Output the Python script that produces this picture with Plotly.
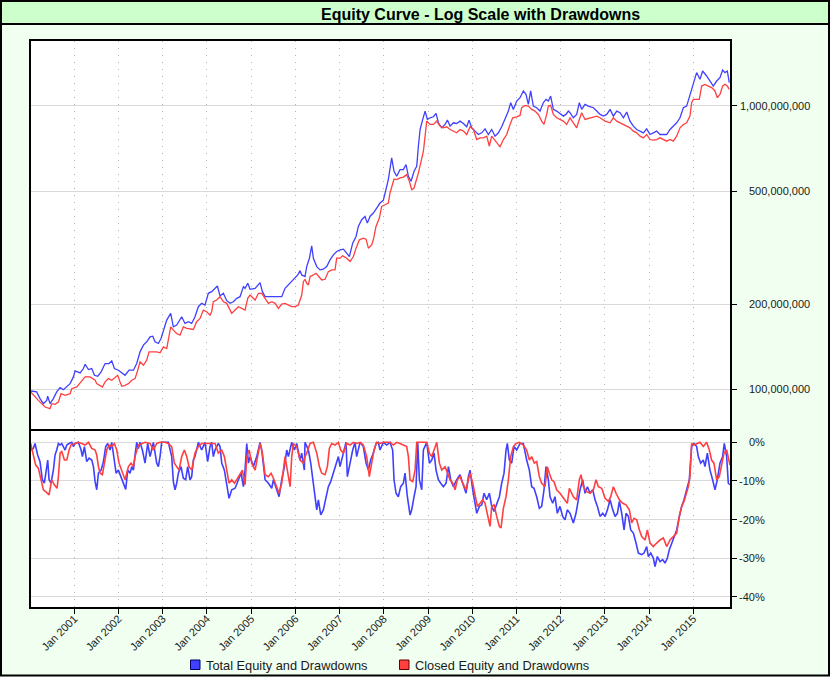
import datetime as dt
import math
import plotly.graph_objects as go

# ---------------- data ----------------
# Dates are given as decimal years; equity in millions of dollars; drawdowns in percent.
total_equity_year = [
    2000.013, 2000.149, 2000.224, 2000.300, 2000.375, 2000.398, 2000.450, 2000.526, 2000.601, 2000.677,
    2000.752, 2000.828, 2000.903, 2000.978, 2001.016, 2001.129, 2001.205, 2001.243, 2001.318, 2001.393,
    2001.454, 2001.529, 2001.605, 2001.695, 2001.785, 2001.846, 2001.906, 2001.996, 2002.072, 2002.147,
    2002.238, 2002.336, 2002.411, 2002.486, 2002.562, 2002.637, 2002.713, 2002.773, 2002.826, 2002.901,
    2002.961, 2003.014, 2003.090, 2003.180, 2003.240, 2003.316, 2003.391, 2003.429, 2003.504, 2003.580,
    2003.655, 2003.730, 2003.806, 2003.881, 2003.957, 2004.032, 2004.107, 2004.183, 2004.236, 2004.296,
    2004.371, 2004.447, 2004.522, 2004.598, 2004.673, 2004.748, 2004.824, 2004.861, 2004.922, 2004.974,
    2005.088, 2005.200, 2005.253, 2005.314, 2005.427, 2005.502, 2005.578, 2005.691, 2005.766, 2005.842,
    2005.917, 2005.993, 2006.053, 2006.105, 2006.143, 2006.218,
    2006.256, 2006.317, 2006.369, 2006.407, 2006.483, 2006.558, 2006.633, 2006.709, 2006.784, 2006.860,
    2006.935, 2007.010, 2007.086, 2007.161, 2007.222, 2007.297, 2007.373, 2007.425, 2007.501, 2007.576,
    2007.629, 2007.689, 2007.764, 2007.840, 2007.915, 2007.990, 2008.051, 2008.103, 2008.179, 2008.232,
    2008.292, 2008.367, 2008.443, 2008.503, 2008.556, 2008.616, 2008.684, 2008.744, 2008.782, 2008.820,
    2008.880, 2008.933, 2008.985, 2009.046, 2009.121, 2009.181, 2009.234, 2009.310, 2009.385, 2009.438,
    2009.498, 2009.574, 2009.649, 2009.724, 2009.800, 2009.875, 2009.928, 2009.988, 2010.064, 2010.139,
    2010.215, 2010.290, 2010.365, 2010.441, 2010.516, 2010.592, 2010.667, 2010.742, 2010.818, 2010.871,
    2010.931, 2011.006, 2011.082, 2011.157, 2011.217, 2011.270, 2011.323, 2011.383, 2011.459, 2011.534,
    2011.609, 2011.670, 2011.723, 2011.775, 2011.836, 2011.911, 2011.986, 2012.062, 2012.122, 2012.175,
    2012.213,
    2012.288, 2012.363, 2012.423, 2012.476, 2012.552, 2012.627, 2012.740, 2012.816, 2012.891, 2012.966,
    2013.042, 2013.117, 2013.192, 2013.268, 2013.343, 2013.419, 2013.494, 2013.569, 2013.645, 2013.720,
    2013.796, 2013.871, 2013.946, 2014.022, 2014.097, 2014.172, 2014.248, 2014.323, 2014.399, 2014.474,
    2014.549, 2014.625, 2014.700, 2014.776, 2014.851, 2014.926, 2015.002, 2015.077, 2015.152, 2015.213,
    2015.303, 2015.379, 2015.454, 2015.530, 2015.605, 2015.665, 2015.718, 2015.771, 2015.816,
]
total_equity_musd = [
    98.7, 97.9, 92.7, 89.0, 91.4, 94.5, 89.0, 92.7, 97.9, 101.4,
    99.7, 101.9, 104.7, 110.6, 116.1, 114.2, 118.4, 122.6, 117.4, 118.4,
    112.1, 111.2, 115.2, 123.3, 123.3, 126.0, 118.4, 116.8, 114.2, 112.1,
    116.8, 116.8, 123.3, 135.6, 143.2, 147.1, 153.2, 154.0, 147.1, 145.1,
    151.2, 161.8, 175.5, 185.3, 166.2, 168.5, 175.5, 180.4, 170.8, 173.2,
    170.8, 180.4, 195.7, 201.1, 198.4, 218.2, 221.1, 227.2, 231.6, 213.5,
    218.2, 205.5, 201.1, 203.8, 209.4, 212.3, 230.3, 227.2, 236.7, 225.4,
    227.2, 238.0, 221.1, 212.3, 212.3, 213.5, 212.3, 212.3, 227.2, 233.5,
    239.9, 246.5, 253.3, 262.4, 253.3, 249.9,
    271.1, 290.2, 320.9, 290.2, 271.1, 263.9, 265.3, 271.1, 286.3, 298.2,
    306.4, 310.6, 312.3, 302.3, 294.2, 328.0, 346.3, 375.7, 396.7, 407.6,
    386.0, 407.6, 418.8, 436.2, 454.4, 464.4, 506.6, 549.7, 655.9, 588.3,
    564.8, 596.4, 596.4, 621.2, 564.8, 542.2, 588.3, 612.8, 721.2, 826.2,
    896.5, 959.5, 896.5, 908.7, 916.2, 941.4, 872.5, 837.6, 860.7, 891.6,
    849.0, 872.5, 867.8, 884.4, 867.8, 844.5, 891.6, 837.6, 815.1, 793.2,
    804.1, 830.8, 793.2, 826.2, 782.5, 804.1, 844.5, 896.5, 959.5, 1027.0,
    972.7, 1041.0, 1070.0, 1130.0, 1099.0, 1013.0, 1130.0, 999.0, 986.0, 959.5,
    1027.0, 1055.0, 1041.0, 1084.0, 972.7, 959.5, 941.4, 921.1, 933.8, 959.5,
    946.5,
    908.7, 933.8, 1027.0, 972.7, 1013.0, 999.0, 986.0, 959.5, 933.8, 921.1,
    933.8, 972.7, 921.1, 959.5, 946.5, 908.7, 951.7, 884.4, 849.0, 826.2,
    815.1, 804.1, 830.8, 793.2, 804.1, 815.1, 793.2, 793.2, 793.2, 826.2,
    849.0, 872.5, 908.7, 986.0, 999.0, 1099.0, 1209.0, 1312.0, 1242.0, 1329.0,
    1276.0, 1225.0, 1176.0, 1225.0, 1259.0, 1340.0, 1312.0, 1329.0, 1209.0,
]

closed_equity_year = [
    2000.013, 2000.111, 2000.186, 2000.262, 2000.337, 2000.450, 2000.488, 2000.563, 2000.639, 2000.699,
    2000.790, 2000.903, 2000.941, 2001.054, 2001.167, 2001.243, 2001.356, 2001.469, 2001.506, 2001.582,
    2001.634, 2001.695, 2001.770, 2001.846, 2001.921, 2001.981, 2002.034, 2002.072, 2002.147, 2002.223,
    2002.298, 2002.373, 2002.434, 2002.486, 2002.562, 2002.637, 2002.690, 2002.788, 2002.864, 2002.939,
    2003.014, 2003.090, 2003.127, 2003.180, 2003.240, 2003.316, 2003.391, 2003.466, 2003.542, 2003.693,
    2003.768, 2003.844, 2003.919, 2003.994, 2004.070, 2004.107, 2004.145, 2004.221, 2004.296, 2004.371,
    2004.447, 2004.560, 2004.635, 2004.711, 2004.786, 2004.861, 2004.922, 2004.974, 2005.088, 2005.163,
    2005.238, 2005.314, 2005.389, 2005.465, 2005.540, 2005.615, 2005.691, 2005.766, 2005.842, 2005.917,
    2005.993, 2006.068, 2006.143, 2006.181, 2006.218,
    2006.256, 2006.294, 2006.332, 2006.407, 2006.467, 2006.543, 2006.595, 2006.671, 2006.746, 2006.822,
    2006.897, 2006.935, 2007.010, 2007.071, 2007.161, 2007.237, 2007.312, 2007.373, 2007.448, 2007.538,
    2007.599, 2007.652, 2007.727, 2007.764, 2007.825, 2007.900, 2007.953, 2008.028, 2008.103, 2008.141,
    2008.179, 2008.232, 2008.292, 2008.367, 2008.443, 2008.518, 2008.578, 2008.631, 2008.684, 2008.729,
    2008.782, 2008.835, 2008.895, 2008.933, 2008.970, 2009.046, 2009.121, 2009.197, 2009.272, 2009.347,
    2009.423, 2009.498, 2009.574, 2009.649, 2009.724, 2009.800, 2009.875, 2009.951, 2010.026, 2010.102,
    2010.177, 2010.252, 2010.328, 2010.388, 2010.441, 2010.494, 2010.554, 2010.629, 2010.705, 2010.780,
    2010.856, 2010.916, 2011.006, 2011.082, 2011.119, 2011.195, 2011.270, 2011.346, 2011.421, 2011.496,
    2011.572, 2011.625, 2011.685, 2011.723, 2011.775, 2011.836, 2011.911, 2011.986, 2012.062, 2012.137,
    2012.213,
    2012.288, 2012.363, 2012.423, 2012.476, 2012.552, 2012.665, 2012.816, 2012.891, 2013.004, 2013.117,
    2013.192, 2013.268, 2013.343, 2013.419, 2013.494, 2013.569, 2013.645, 2013.720, 2013.796, 2013.871,
    2013.946, 2014.022, 2014.097, 2014.172, 2014.248, 2014.323, 2014.399, 2014.474, 2014.549, 2014.625,
    2014.700, 2014.776, 2014.851, 2014.926, 2014.964, 2015.002, 2015.077, 2015.137, 2015.190, 2015.266,
    2015.341, 2015.416, 2015.492, 2015.545, 2015.605, 2015.665, 2015.718, 2015.771, 2015.816,
]
closed_equity_musd = [
    97.9, 93.9, 91.4, 89.0, 86.6, 85.4, 89.0, 88.5, 90.2, 96.5,
    95.2, 96.5, 100.5, 101.9, 107.6, 110.6, 110.6, 107.6, 104.7, 103.3,
    101.9, 106.2, 109.1, 107.6, 110.6, 112.1, 106.2, 102.5, 103.3, 104.7,
    107.6, 109.1, 116.8, 125.0, 121.6, 126.7, 135.6, 135.6, 135.6, 134.5,
    141.2, 139.3, 151.2, 166.2, 161.8, 157.4, 155.3, 166.2, 164.0, 162.7,
    173.2, 177.9, 190.4, 187.9, 182.8, 187.9, 203.8, 206.6, 212.3, 203.8,
    201.1, 185.3, 190.4, 195.7, 193.1, 190.4, 209.4, 215.2, 206.6, 218.2,
    218.2, 209.4, 201.1, 203.8, 201.1, 193.1, 200.0, 201.1, 198.4, 195.7,
    195.7, 198.4, 215.2, 239.9, 244.5,
    236.7, 233.5, 249.9, 253.3, 256.8, 248.6, 243.2, 244.5, 260.3, 263.9,
    263.9, 290.2, 290.2, 295.8, 290.2, 282.4, 294.2, 314.9, 337.0, 341.6,
    338.8, 314.9, 323.5, 337.0, 375.7, 402.1, 442.2, 448.3, 454.4, 493.0,
    520.6, 552.6, 549.7, 557.2, 561.0, 572.5, 542.2, 506.6, 513.5, 542.2,
    580.3, 629.7, 692.5, 782.5, 884.4, 860.7, 860.7, 884.4, 849.0, 837.6,
    844.5, 826.2, 815.1, 804.1, 826.2, 815.1, 793.2, 844.5, 826.2, 761.5,
    771.9, 771.9, 782.5, 721.2, 782.5, 761.5, 741.2, 717.4, 761.5, 793.2,
    860.7, 908.7, 916.2, 926.2, 986.0, 1005.0, 999.0, 972.7, 959.5, 933.8,
    884.4, 860.7, 933.8, 999.0, 1005.0, 933.8, 908.7, 896.5, 884.4, 860.7,
    908.7,
    872.5, 837.6, 896.5, 946.5, 896.5, 908.7, 921.1, 908.7, 884.4, 872.5,
    908.7, 884.4, 872.5, 860.7, 849.0, 837.6, 815.1, 804.1, 782.5, 771.9,
    793.2, 761.5, 757.4, 761.5, 771.9, 761.5, 751.3, 761.5, 751.3, 782.5,
    837.6, 860.7, 872.5, 921.1, 1027.0, 1055.0, 1055.0, 1055.0, 1176.0, 1192.0,
    1176.0, 1161.0, 1130.0, 1070.0, 1099.0, 1176.0, 1192.0, 1176.0, 1145.0,
]

total_dd_year = [
    2000.013, 2000.073, 2000.111, 2000.171, 2000.224, 2000.277, 2000.322, 2000.375, 2000.398, 2000.428,
    2000.473, 2000.526, 2000.563, 2000.601, 2000.639, 2000.677, 2000.714, 2000.790, 2000.828, 2000.880,
    2000.941, 2000.978, 2001.016, 2001.091, 2001.152, 2001.182, 2001.227, 2001.280, 2001.333, 2001.393,
    2001.431, 2001.469, 2001.506, 2001.544, 2001.604, 2001.657, 2001.710, 2001.755, 2001.808, 2001.846,
    2001.906, 2001.944, 2001.996, 2002.057, 2002.109, 2002.162, 2002.207, 2002.260, 2002.298, 2002.336,
    2002.373, 2002.411, 2002.449, 2002.486, 2002.539, 2002.599, 2002.660, 2002.713, 2002.788, 2002.864,
    2002.901, 2002.939, 2002.976, 2003.052, 2003.127, 2003.203, 2003.240, 2003.278, 2003.316, 2003.353,
    2003.414, 2003.466, 2003.519, 2003.565, 2003.617, 2003.655, 2003.693, 2003.730, 2003.768, 2003.806,
    2003.881, 2003.957, 2004.017, 2004.070, 2004.107, 2004.145, 2004.183, 2004.258, 2004.296, 2004.334,
    2004.394, 2004.447, 2004.499, 2004.560, 2004.635, 2004.711, 2004.771, 2004.824, 2004.861, 2004.899,
    2004.937, 2004.974, 2005.050, 2005.125, 2005.163, 2005.200, 2005.238, 2005.276, 2005.314, 2005.389,
    2005.465, 2005.502, 2005.578, 2005.630, 2005.691, 2005.751, 2005.804, 2005.842, 2005.917, 2005.978,
    2006.030, 2006.105, 2006.143, 2006.203,
    2006.218, 2006.294, 2006.347, 2006.392, 2006.445, 2006.483, 2006.520, 2006.573, 2006.633, 2006.694,
    2006.746, 2006.799, 2006.860, 2006.920, 2006.973, 2007.010, 2007.048, 2007.101, 2007.146, 2007.176,
    2007.237, 2007.297, 2007.349, 2007.387, 2007.463, 2007.538, 2007.599, 2007.652, 2007.704, 2007.764,
    2007.825, 2007.878, 2007.915, 2007.990, 2008.066, 2008.141, 2008.201, 2008.232, 2008.277, 2008.329,
    2008.382, 2008.443, 2008.480, 2008.533, 2008.593, 2008.631, 2008.684, 2008.729, 2008.767, 2008.804,
    2008.857, 2008.895, 2008.970, 2009.031, 2009.083, 2009.136, 2009.181, 2009.234, 2009.287, 2009.347,
    2009.408, 2009.461, 2009.513, 2009.574, 2009.649, 2009.724, 2009.785, 2009.860, 2009.913, 2009.951,
    2010.011, 2010.064, 2010.102, 2010.162, 2010.215, 2010.267, 2010.328, 2010.388, 2010.441, 2010.494,
    2010.554, 2010.614, 2010.667, 2010.720, 2010.765, 2010.795, 2010.840, 2010.893, 2010.946, 2011.006,
    2011.082, 2011.157, 2011.232, 2011.293, 2011.346, 2011.398, 2011.459, 2011.519, 2011.572, 2011.625,
    2011.670, 2011.723, 2011.761, 2011.821, 2011.873, 2011.926, 2011.986, 2012.047, 2012.100, 2012.152,
    2012.213,
    2012.288, 2012.348, 2012.401, 2012.439, 2012.499, 2012.552, 2012.605, 2012.665, 2012.725, 2012.778,
    2012.831, 2012.891, 2012.951, 2013.004, 2013.057, 2013.117, 2013.178, 2013.230, 2013.283, 2013.328,
    2013.381, 2013.434, 2013.479, 2013.532, 2013.585, 2013.645, 2013.705, 2013.758, 2013.833, 2013.886,
    2013.946, 2013.984, 2014.037, 2014.097, 2014.135, 2014.187, 2014.248, 2014.308, 2014.361, 2014.414,
    2014.459, 2014.512, 2014.565, 2014.625, 2014.685, 2014.738, 2014.791, 2014.851, 2014.911, 2014.941,
    2014.964, 2015.017, 2015.077, 2015.115, 2015.168, 2015.228, 2015.266, 2015.319, 2015.379, 2015.439,
    2015.492, 2015.545, 2015.605, 2015.665, 2015.703, 2015.756, 2015.794, 2015.831,
]
total_dd_pct = [
    -2.0, -1.6, -0.3, -3.3, -5.0, -9.7, -10.6, -5.4, -4.6, -9.7,
    -10.6, -7.2, -3.3, -2.0, -0.3, -0.7, -0.3, -2.0, -0.7, -0.3,
    0.0, -1.1, -0.3, 0.0, -2.0, -3.7, -1.1, -5.0, -4.1, -4.6,
    -6.3, -10.2, -12.3, -8.0, -7.2, -5.0, -1.1, -0.3, -2.0, 0.0,
    -4.6, -8.0, -7.2, -8.9, -10.6, -12.2, -7.2, -8.0, -6.3, -7.2,
    -3.3, 0.0, -1.6, 0.0, -2.0, -5.4, -0.3, -3.7, 0.0, -5.4,
    -6.3, -3.7, 0.0, 0.0, 0.0, -3.7, -10.2, -12.3, -10.6, -8.0,
    -6.3, -9.3, -9.7, -6.3, -9.7, -8.9, -4.6, -3.7, -2.0, 0.0,
    -2.0, 0.0, -5.0, -1.1, 0.0, -3.7, -2.0, -0.3, -1.1, -5.4,
    -7.2, -11.5, -14.5, -12.3, -11.9, -9.7, -8.0, -11.5, -7.2, -0.3,
    -5.4, -3.7, -6.3, -3.7, -2.0, 0.0, -2.0, -6.3, -9.7, -10.6,
    -11.9, -9.7, -12.3, -14.1, -9.7, -6.3, -2.0, -3.7, 0.0, -2.0,
    -0.3, -4.6, -2.8, -7.2,
    0.0, -2.0, -5.4, -9.7, -14.1, -17.5, -14.9, -18.8, -17.5, -14.1,
    -11.5, -10.2, -8.0, -5.4, -3.7, -6.3, -4.6, -2.0, 0.0, -8.9,
    -5.4, -2.0, 0.0, -3.7, 0.0, -1.1, -5.4, -7.2, -4.6, -2.8,
    -0.3, 0.0, -2.0, 0.0, -0.7, 0.0, -2.0, -9.7, -13.2, -14.1,
    -11.5, -10.6, -8.0, -14.1, -18.8, -17.5, -14.1, -11.5, 0.0, -9.7,
    -12.3, -2.0, 0.0, -5.4, -4.6, -2.8, -7.2, -9.7, -10.6, -11.5,
    -10.6, -6.3, -9.7, -11.5, -9.7, -8.4, -10.6, -13.2, -8.9, -7.2,
    -12.3, -15.8, -18.4, -16.6, -16.2, -13.2, -14.9, -13.2, -16.6, -17.9,
    -16.2, -14.1, -10.6, -8.0, -2.0, -0.3, -4.6, -5.4, -1.1, -2.0,
    -0.3, -0.3, -4.6, -7.2, -11.5, -11.9, -14.1, -17.1, -16.6, -12.3,
    -6.3, -9.7, -14.1, -15.8, -14.1, -18.4, -16.6, -19.2, -20.1, -17.5,
    -18.4,
    -20.9, -18.4, -14.1, -12.3, -9.7, -13.2, -11.5, -13.2, -12.3, -14.9,
    -16.6, -19.2, -18.4, -19.2, -17.5, -14.9, -17.5, -19.2, -18.4, -15.3,
    -18.4, -22.7, -18.4, -19.2, -22.7, -23.5, -26.1, -28.7, -29.1, -28.7,
    -27.0, -29.6, -28.7, -30.0, -32.2, -29.6, -30.9, -30.4, -31.3, -30.0,
    -27.8, -26.1, -24.4, -22.7, -19.2, -16.6, -14.9, -12.3, -9.7, -4.6,
    -1.1, -0.3, -1.1, -3.7, -5.4, -4.6, -6.3, -2.8, -7.2, -9.7,
    -12.3, -9.7, -5.4, -3.7, -0.3, -3.7, -10.6, -11.0,
]

closed_dd_year = [
    2000.013, 2000.073, 2000.126, 2000.186, 2000.247, 2000.300, 2000.352, 2000.428, 2000.488, 2000.548,
    2000.609, 2000.639, 2000.677, 2000.714, 2000.775, 2000.828, 2000.880, 2000.925, 2001.016, 2001.091,
    2001.167, 2001.243, 2001.318, 2001.393, 2001.469, 2001.506, 2001.544, 2001.582, 2001.634, 2001.680,
    2001.732, 2001.785, 2001.846, 2001.906, 2001.959, 2002.011, 2002.087, 2002.147, 2002.223, 2002.283,
    2002.336, 2002.373, 2002.449, 2002.524, 2002.599, 2002.713, 2002.788, 2002.864, 2002.939, 2003.052,
    2003.127, 2003.203, 2003.263, 2003.316, 2003.368, 2003.429, 2003.489, 2003.542, 2003.595, 2003.655,
    2003.693, 2003.730, 2003.806, 2003.881, 2003.994, 2004.107, 2004.183, 2004.258, 2004.334, 2004.394,
    2004.447, 2004.499, 2004.560, 2004.620, 2004.673, 2004.748, 2004.801, 2004.861, 2004.899, 2004.952,
    2005.012, 2005.088, 2005.163, 2005.200, 2005.253, 2005.314, 2005.389, 2005.449, 2005.502, 2005.578,
    2005.630, 2005.691, 2005.729, 2005.766, 2005.842, 2005.880, 2005.917, 2005.955, 2006.030, 2006.105,
    2006.181, 2006.218,
    2006.256, 2006.332, 2006.407, 2006.483, 2006.543, 2006.595, 2006.671, 2006.724, 2006.769, 2006.822,
    2006.897, 2006.973, 2007.025, 2007.086, 2007.161, 2007.237, 2007.312, 2007.387, 2007.463, 2007.538,
    2007.613, 2007.674, 2007.727, 2007.780, 2007.840, 2007.915, 2007.990, 2008.141, 2008.217, 2008.292,
    2008.367, 2008.443, 2008.518, 2008.556, 2008.593, 2008.654, 2008.707, 2008.744, 2008.820, 2008.970,
    2009.031, 2009.083, 2009.136, 2009.197, 2009.257, 2009.310, 2009.385, 2009.438, 2009.498, 2009.558,
    2009.611, 2009.664, 2009.724, 2009.785, 2009.860, 2009.913, 2009.951, 2010.011, 2010.064, 2010.117,
    2010.177, 2010.237, 2010.290, 2010.343, 2010.403, 2010.441, 2010.494, 2010.554, 2010.614, 2010.652,
    2010.705, 2010.765, 2010.818, 2010.871, 2010.931, 2010.991, 2011.066, 2011.157, 2011.232, 2011.293,
    2011.346, 2011.406, 2011.459, 2011.519, 2011.572, 2011.647, 2011.700, 2011.745, 2011.798, 2011.851,
    2011.911, 2011.986, 2012.047, 2012.100, 2012.152, 2012.198,
    2012.288, 2012.363, 2012.423, 2012.461, 2012.514, 2012.590, 2012.665, 2012.740, 2012.801, 2012.853,
    2012.929, 2013.004, 2013.079, 2013.132, 2013.192, 2013.253, 2013.328, 2013.404, 2013.479, 2013.554,
    2013.607, 2013.660, 2013.720, 2013.781, 2013.833, 2013.909, 2013.962, 2014.022, 2014.097, 2014.172,
    2014.248, 2014.323, 2014.399, 2014.474, 2014.549, 2014.625, 2014.685, 2014.738, 2014.791, 2014.851,
    2014.889, 2014.926, 2014.964, 2015.017, 2015.077, 2015.152, 2015.228, 2015.303, 2015.364, 2015.416,
    2015.469, 2015.530, 2015.590, 2015.643, 2015.696, 2015.756, 2015.809, 2015.831,
]
closed_dd_pct = [
    -0.3, -3.7, -5.9, -6.7, -9.7, -12.3, -12.8, -13.6, -9.7, -11.0,
    -11.9, -8.9, -2.8, -2.4, -4.6, -4.6, -2.0, -0.7, -0.3, 0.0,
    -0.3, -0.7, 0.0, -1.6, -2.0, -3.3, -6.3, -8.0, -8.4, -5.4,
    -2.0, -0.7, -1.1, -0.3, -2.0, -5.4, -8.0, -9.7, -6.3, -5.4,
    -6.3, -3.7, -0.7, -0.3, 0.0, -0.3, -2.0, -0.3, 0.0, 0.0,
    -0.3, -1.1, -5.4, -6.3, -7.2, -3.7, -2.0, -3.7, -6.3, -7.2,
    -4.6, -2.8, -1.1, -0.3, -0.3, -0.3, -0.3, -2.8, -2.0, -3.7,
    -7.2, -10.6, -9.7, -10.6, -9.7, -8.0, -7.2, -11.0, -3.7, -2.0,
    -5.4, -7.2, -2.0, -0.3, -2.8, -8.4, -8.9, -8.0, -9.3, -11.9,
    -13.2, -10.6, -6.3, -3.7, -8.9, -11.5, -3.7, -0.3, -1.1, -4.6,
    -5.4, -3.7,
    -2.8, -0.3, 0.0, -2.8, -6.3, -8.0, -8.4, -6.3, -1.6, -0.3,
    -0.7, 0.0, -2.0, -2.8, -0.3, -0.7, 0.0, -0.3, 0.0, -0.7,
    -3.7, -8.9, -5.4, -2.0, 0.0, -0.3, 0.0, 0.0, -0.7, 0.0,
    -0.3, -0.7, -1.1, -3.7, -9.7, -10.2, -7.2, 0.0, 0.0, 0.0,
    -2.8, -3.7, -2.0, 0.0, -5.4, -7.2, -6.3, -8.0, -9.7, -10.6,
    -12.3, -9.7, -8.9, -10.6, -12.3, -9.7, -8.0, -10.6, -13.2, -16.6,
    -15.8, -14.9, -15.8, -18.4, -21.8, -16.6, -16.2, -19.2, -21.8, -22.2,
    -17.1, -14.1, -9.7, -3.7, -1.1, -0.3, 0.0, -0.7, -2.0, -4.6,
    -3.7, -5.4, -5.0, -8.9, -10.6, -11.5, -6.3, -8.0, -9.7, -10.2,
    -12.3, -13.2, -14.1, -14.9, -15.8, -11.9,
    -14.1, -14.9, -9.7, -8.4, -11.5, -12.8, -13.2, -12.3, -9.7, -11.5,
    -11.9, -14.5, -15.3, -14.1, -11.5, -13.2, -14.9, -15.8, -16.2, -17.5,
    -20.9, -19.7, -20.1, -22.7, -24.4, -25.3, -22.7, -26.1, -27.0, -26.1,
    -25.3, -24.8, -27.0, -25.3, -24.4, -23.5, -19.2, -16.6, -15.3, -13.2,
    -11.5, -8.9, -0.3, -0.7, -0.3, 0.0, -1.1, 0.0, -2.0, -4.6,
    -5.4, -9.7, -8.9, -5.4, -2.8, -2.0, -5.4, -5.9,
]

year_tick_years = list(range(2001, 2016))
year_tick_labels = ["Jan %d" % y for y in year_tick_years]
equity_tick_values = [100_000_000, 200_000_000, 500_000_000, 1_000_000_000]
equity_tick_labels = ["100,000,000", "200,000,000", "500,000,000", "1,000,000,000"]
dd_tick_values = [0, -10, -20, -30, -40]
dd_tick_labels = ["0%", "-10%", "-20%", "-30%", "-40%"]

series_names = ["Total Equity and Drawdowns", "Closed Equity and Drawdowns"]
title_text = "Equity Curve - Log Scale with Drawdowns"

assert len(total_equity_year) == len(total_equity_musd)
assert len(closed_equity_year) == len(closed_equity_musd)
assert len(total_dd_year) == len(total_dd_pct)
assert len(closed_dd_year) == len(closed_dd_pct)


def to_date(y):
    yr = int(math.floor(y))
    start = dt.datetime(yr, 1, 1)
    end = dt.datetime(yr + 1, 1, 1)
    return start + (end - start) * (y - yr)


# ---------------- layout helpers (pixel -> paper) ----------------
W, H = 830, 677
ML, MR, MT, MB = 31, 100, 41, 70
PW, PH = W - ML - MR, H - MT - MB


def px_x(x):
    return (x - ML) / PW


def px_y(y):
    return (H - MB - y) / PH


BLUE = "#4040FF"
RED = "#FF4040"
FONT = "Liberation Sans, Arial, sans-serif"
TXT = "#1a1a1a"
GRID_H = "#d9d9d9"
GRID_V = "#b4b4b4"

lower_top = px_y(431)
upper_bottom = px_y(429)

fig = go.Figure()
fig.add_trace(go.Scatter(x=[to_date(t) for t in total_equity_year],
                         y=[v * 1e6 for v in total_equity_musd],
                         mode="lines", line=dict(color=BLUE, width=1.3),
                         name=series_names[0], xaxis="x", yaxis="y"))
fig.add_trace(go.Scatter(x=[to_date(t) for t in closed_equity_year],
                         y=[v * 1e6 for v in closed_equity_musd],
                         mode="lines", line=dict(color=RED, width=1.3),
                         name=series_names[1], xaxis="x", yaxis="y"))
fig.add_trace(go.Scatter(x=[to_date(t) for t in total_dd_year], y=total_dd_pct,
                         mode="lines", line=dict(color=BLUE, width=1.6),
                         name=series_names[0], xaxis="x2", yaxis="y2"))
fig.add_trace(go.Scatter(x=[to_date(t) for t in closed_dd_year], y=closed_dd_pct,
                         mode="lines", line=dict(color=RED, width=1.6),
                         name=series_names[1], xaxis="x2", yaxis="y2"))

x_range = [to_date(2000.0206), to_date(2015.832)]
tickdates = [dt.datetime(y, 1, 1) for y in year_tick_years]

common_x = dict(range=x_range, type="date", showgrid=True, gridcolor=GRID_V, gridwidth=1,
                griddash="1px,6px", tickvals=tickdates, showline=True, linecolor="black",
                linewidth=2, mirror=True, zeroline=False)
common_y = dict(side="right", showline=True, linecolor="black", linewidth=2, mirror=True,
                ticks="outside", ticklen=5, tickcolor="black", tickwidth=1,
                showticklabels=False, showgrid=True, gridcolor=GRID_H, gridwidth=1.3,
                zeroline=False)

fig.update_layout(
    width=W, height=H,
    margin=dict(l=ML, r=MR, t=MT, b=MB, pad=0),
    paper_bgcolor="#F0FFF0", plot_bgcolor="white",
    showlegend=False,
    font=dict(family=FONT, color=TXT, size=11),
    xaxis=dict(domain=[0, 1], anchor="y", showticklabels=False, ticks="", **common_x),
    xaxis2=dict(domain=[0, 1], anchor="y2", matches="x", ticktext=year_tick_labels,
                tickangle=-45, ticks="outside", ticklen=5, tickcolor="black",
                ticklabelstandoff=-6,
                tickfont=dict(size=11, family=FONT, color=TXT), **common_x),
    yaxis=dict(domain=[upper_bottom, 1], type="log",
               range=[7.8599, 9.2294], tickvals=equity_tick_values, **common_y),
    yaxis2=dict(domain=[0, lower_top], range=[-42.67, 2.93], tickvals=dd_tick_values, **common_y),
)

annotations = []
for v, lab in zip(equity_tick_values, equity_tick_labels):
    annotations.append(dict(x=px_x(811.5), xref="paper", y=math.log10(v), yref="y",
                            text=lab, showarrow=False, xanchor="right", yanchor="middle",
                            font=dict(size=11, family=FONT, color=TXT)))
for v, lab in zip(dd_tick_values, dd_tick_labels):
    annotations.append(dict(x=px_x(767), xref="paper", y=v, yref="y2",
                            text=lab, showarrow=False, xanchor="right", yanchor="middle",
                            font=dict(size=11, family=FONT, color=TXT)))
annotations.append(dict(x=px_x(480.5), y=px_y(14), xref="paper", yref="paper",
                        text="<b>%s</b>" % title_text, showarrow=False,
                        xanchor="center", yanchor="middle",
                        font=dict(size=16, family=FONT, color="black")))
annotations.append(dict(x=px_x(204), y=px_y(665), xref="paper", yref="paper",
                        text=series_names[0], showarrow=False, xanchor="left",
                        yanchor="middle", font=dict(size=12.8, family=FONT, color=TXT)))
annotations.append(dict(x=px_x(413), y=px_y(665), xref="paper", yref="paper",
                        text=series_names[1], showarrow=False, xanchor="left",
                        yanchor="middle", font=dict(size=12.8, family=FONT, color=TXT)))

shapes = [
    dict(type="rect", xref="paper", yref="paper", x0=px_x(0), x1=px_x(W), y0=px_y(24),
         y1=px_y(0), fillcolor="#CCFFCC", line=dict(width=0), layer="below"),
    dict(type="line", xref="paper", yref="paper", x0=px_x(0), x1=px_x(W), y0=px_y(24),
         y1=px_y(24), line=dict(color="black", width=2)),
    dict(type="rect", xref="paper", yref="paper", x0=px_x(1), x1=px_x(W - 1), y0=px_y(H - 1.5),
         y1=px_y(1), line=dict(color="black", width=2)),
    dict(type="rect", xref="paper", yref="paper", x0=px_x(190.5), x1=px_x(200), y0=px_y(669.5),
         y1=px_y(660), fillcolor=BLUE, line=dict(color="#000060", width=1)),
    dict(type="rect", xref="paper", yref="paper", x0=px_x(399.5), x1=px_x(409), y0=px_y(669.5),
         y1=px_y(660), fillcolor=RED, line=dict(color="#600000", width=1)),
]
fig.update_layout(annotations=annotations, shapes=shapes)

fig.write_html("out.html")
